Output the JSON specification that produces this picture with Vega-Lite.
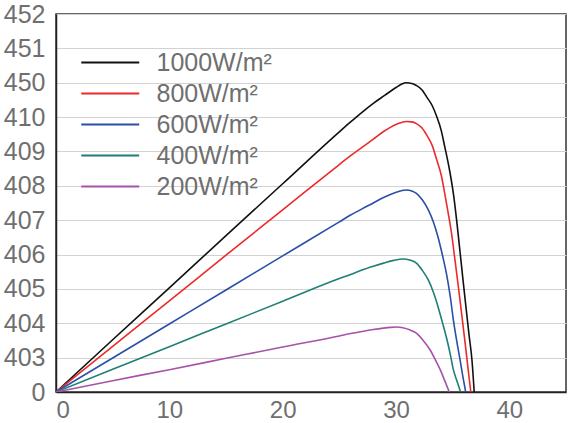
{
  "$schema": "https://vega.github.io/schema/vega-lite/v6.json",
  "width": 510,
  "height": 378,
  "autosize": {"type": "none"},
  "padding": {"left": 56, "top": 14, "right": 2, "bottom": 31},
  "background": "white",
  "config": {
    "font": "Liberation Sans",
    "view": {"stroke": "#333333", "strokeWidth": 1.5},
    "axis": {"labelFont": "Liberation Sans", "labelColor": "#6f6f6f", "labelFontSize": 25}
  },
  "data": {
    "values": [
      {"v": 0, "p": 0, "s": "1000W/m²"}, {"v": 5, "p": 1.52, "s": "1000W/m²"}, {"v": 10, "p": 3.03, "s": "1000W/m²"},
      {"v": 15, "p": 4.55, "s": "1000W/m²"}, {"v": 20, "p": 6.06, "s": "1000W/m²"}, {"v": 25, "p": 7.57, "s": "1000W/m²"},
      {"v": 26, "p": 7.86, "s": "1000W/m²"}, {"v": 27, "p": 8.14, "s": "1000W/m²"}, {"v": 28, "p": 8.4, "s": "1000W/m²"},
      {"v": 29, "p": 8.63, "s": "1000W/m²"}, {"v": 30, "p": 8.86, "s": "1000W/m²"}, {"v": 30.5, "p": 8.96, "s": "1000W/m²"},
      {"v": 30.9, "p": 9.0, "s": "1000W/m²"}, {"v": 31.4, "p": 8.98, "s": "1000W/m²"}, {"v": 31.8, "p": 8.92, "s": "1000W/m²"},
      {"v": 32.3, "p": 8.79, "s": "1000W/m²"}, {"v": 32.7, "p": 8.59, "s": "1000W/m²"}, {"v": 33.2, "p": 8.33, "s": "1000W/m²"},
      {"v": 33.6, "p": 8.01, "s": "1000W/m²"}, {"v": 34.0, "p": 7.6, "s": "1000W/m²"}, {"v": 34.3, "p": 7.14, "s": "1000W/m²"},
      {"v": 34.7, "p": 6.5, "s": "1000W/m²"}, {"v": 35.06, "p": 5.78, "s": "1000W/m²"}, {"v": 35.35, "p": 5.0, "s": "1000W/m²"},
      {"v": 35.6, "p": 4.23, "s": "1000W/m²"}, {"v": 35.9, "p": 3.3, "s": "1000W/m²"}, {"v": 36.2, "p": 2.39, "s": "1000W/m²"},
      {"v": 36.45, "p": 1.65, "s": "1000W/m²"}, {"v": 36.7, "p": 0.94, "s": "1000W/m²"}, {"v": 36.9, "p": 0, "s": "1000W/m²"},

      {"v": 0, "p": 0, "s": "800W/m²"}, {"v": 5, "p": 1.33, "s": "800W/m²"}, {"v": 10, "p": 2.65, "s": "800W/m²"},
      {"v": 15, "p": 3.98, "s": "800W/m²"}, {"v": 20, "p": 5.3, "s": "800W/m²"}, {"v": 25, "p": 6.62, "s": "800W/m²"},
      {"v": 26, "p": 6.88, "s": "800W/m²"}, {"v": 27, "p": 7.12, "s": "800W/m²"}, {"v": 28, "p": 7.36, "s": "800W/m²"},
      {"v": 28.9, "p": 7.58, "s": "800W/m²"}, {"v": 29.5, "p": 7.7, "s": "800W/m²"}, {"v": 30.2, "p": 7.81, "s": "800W/m²"},
      {"v": 30.9, "p": 7.87, "s": "800W/m²"}, {"v": 31.4, "p": 7.86, "s": "800W/m²"}, {"v": 31.8, "p": 7.81, "s": "800W/m²"},
      {"v": 32.3, "p": 7.68, "s": "800W/m²"}, {"v": 32.7, "p": 7.48, "s": "800W/m²"}, {"v": 33.2, "p": 7.17, "s": "800W/m²"},
      {"v": 33.6, "p": 6.75, "s": "800W/m²"}, {"v": 34.0, "p": 6.3, "s": "800W/m²"}, {"v": 34.3, "p": 5.78, "s": "800W/m²"},
      {"v": 34.6, "p": 5.22, "s": "800W/m²"}, {"v": 34.9, "p": 4.62, "s": "800W/m²"}, {"v": 35.2, "p": 3.85, "s": "800W/m²"},
      {"v": 35.5, "p": 3.07, "s": "800W/m²"}, {"v": 35.8, "p": 2.25, "s": "800W/m²"}, {"v": 36.1, "p": 1.42, "s": "800W/m²"},
      {"v": 36.35, "p": 0.7, "s": "800W/m²"}, {"v": 36.6, "p": 0, "s": "800W/m²"},

      {"v": 0, "p": 0, "s": "600W/m²"}, {"v": 5, "p": 0.99, "s": "600W/m²"}, {"v": 10, "p": 1.98, "s": "600W/m²"},
      {"v": 15, "p": 2.97, "s": "600W/m²"}, {"v": 20, "p": 3.96, "s": "600W/m²"}, {"v": 25, "p": 4.95, "s": "600W/m²"},
      {"v": 26, "p": 5.15, "s": "600W/m²"}, {"v": 27, "p": 5.33, "s": "600W/m²"}, {"v": 28, "p": 5.5, "s": "600W/m²"},
      {"v": 28.9, "p": 5.66, "s": "600W/m²"}, {"v": 29.9, "p": 5.8, "s": "600W/m²"}, {"v": 30.9, "p": 5.88, "s": "600W/m²"},
      {"v": 31.4, "p": 5.85, "s": "600W/m²"}, {"v": 31.8, "p": 5.78, "s": "600W/m²"}, {"v": 32.3, "p": 5.6, "s": "600W/m²"},
      {"v": 32.85, "p": 5.3, "s": "600W/m²"}, {"v": 33.3, "p": 4.95, "s": "600W/m²"}, {"v": 33.7, "p": 4.52, "s": "600W/m²"},
      {"v": 34.1, "p": 3.98, "s": "600W/m²"}, {"v": 34.5, "p": 3.36, "s": "600W/m²"}, {"v": 34.8, "p": 2.75, "s": "600W/m²"},
      {"v": 35.06, "p": 2.1, "s": "600W/m²"}, {"v": 35.35, "p": 1.5, "s": "600W/m²"}, {"v": 35.65, "p": 0.94, "s": "600W/m²"},
      {"v": 35.9, "p": 0.45, "s": "600W/m²"}, {"v": 36.15, "p": 0, "s": "600W/m²"},

      {"v": 0, "p": 0, "s": "400W/m²"}, {"v": 5, "p": 0.66, "s": "400W/m²"}, {"v": 10, "p": 1.32, "s": "400W/m²"},
      {"v": 15, "p": 1.98, "s": "400W/m²"}, {"v": 20, "p": 2.64, "s": "400W/m²"}, {"v": 25, "p": 3.3, "s": "400W/m²"},
      {"v": 26, "p": 3.42, "s": "400W/m²"}, {"v": 27, "p": 3.55, "s": "400W/m²"}, {"v": 28, "p": 3.66, "s": "400W/m²"},
      {"v": 28.9, "p": 3.75, "s": "400W/m²"}, {"v": 29.8, "p": 3.83, "s": "400W/m²"}, {"v": 30.65, "p": 3.87, "s": "400W/m²"},
      {"v": 31.2, "p": 3.84, "s": "400W/m²"}, {"v": 31.8, "p": 3.75, "s": "400W/m²"}, {"v": 32.3, "p": 3.55, "s": "400W/m²"},
      {"v": 32.85, "p": 3.26, "s": "400W/m²"}, {"v": 33.3, "p": 2.9, "s": "400W/m²"}, {"v": 33.7, "p": 2.49, "s": "400W/m²"},
      {"v": 34.1, "p": 2.02, "s": "400W/m²"}, {"v": 34.5, "p": 1.52, "s": "400W/m²"}, {"v": 34.8, "p": 1.08, "s": "400W/m²"},
      {"v": 35.06, "p": 0.65, "s": "400W/m²"}, {"v": 35.4, "p": 0.3, "s": "400W/m²"}, {"v": 35.7, "p": 0, "s": "400W/m²"},

      {"v": 0, "p": 0, "s": "200W/m²"}, {"v": 5, "p": 0.33, "s": "200W/m²"}, {"v": 10, "p": 0.65, "s": "200W/m²"},
      {"v": 15, "p": 0.98, "s": "200W/m²"}, {"v": 20, "p": 1.31, "s": "200W/m²"}, {"v": 25, "p": 1.63, "s": "200W/m²"},
      {"v": 26, "p": 1.7, "s": "200W/m²"}, {"v": 27, "p": 1.76, "s": "200W/m²"}, {"v": 28, "p": 1.82, "s": "200W/m²"},
      {"v": 28.9, "p": 1.86, "s": "200W/m²"}, {"v": 29.5, "p": 1.88, "s": "200W/m²"}, {"v": 30.06, "p": 1.89, "s": "200W/m²"},
      {"v": 30.6, "p": 1.87, "s": "200W/m²"}, {"v": 31.2, "p": 1.81, "s": "200W/m²"}, {"v": 31.8, "p": 1.71, "s": "200W/m²"},
      {"v": 32.4, "p": 1.5, "s": "200W/m²"}, {"v": 33.0, "p": 1.23, "s": "200W/m²"}, {"v": 33.45, "p": 0.95, "s": "200W/m²"},
      {"v": 33.9, "p": 0.65, "s": "200W/m²"}, {"v": 34.3, "p": 0.33, "s": "200W/m²"}, {"v": 34.7, "p": 0, "s": "200W/m²"}
    ]
  },
  "mark": {"type": "line", "strokeWidth": 1.6, "clip": true, "interpolate": "monotone"},
  "encoding": {
    "x": {
      "field": "v", "type": "quantitative",
      "scale": {"domain": [0, 45], "nice": false},
      "axis": {"title": null, "values": [0, 10, 20, 30, 40], "grid": false, "ticks": false,
               "domainColor": "#222222", "domainWidth": 1.5, "labelPadding": 6, "labelFontSize": 24}
    },
    "y": {
      "field": "p", "type": "quantitative",
      "scale": {"domain": [0, 11], "nice": false, "zero": true},
      "axis": {"title": null, "values": [0, 1, 2, 3, 4, 5, 6, 7, 8, 9, 10, 11],
               "labelExpr": "['0','403','404','405','406','407','408','409','410','450','451','452'][datum.value]",
               "grid": true, "gridColor": "#d2d2d2", "gridWidth": 1.2, "ticks": false,
               "domainColor": "#222222", "domainWidth": 1.5, "labelPadding": 11}
    },
    "color": {
      "field": "s", "type": "nominal",
      "scale": {
        "domain": ["1000W/m²", "800W/m²", "600W/m²", "400W/m²", "200W/m²"],
        "range": ["#111111", "#ec2a2a", "#2a4fa6", "#1f7f78", "#a652a9"]
      },
      "legend": {
        "title": null, "orient": "none", "legendX": 41.75, "legendY": 36,
        "symbolType": "M-4,0H4", "symbolSize": 210, "symbolStrokeWidth": 2,
        "labelFont": "Liberation Sans", "labelFontSize": 25, "labelColor": "#6f6f6f",
        "labelOffset": 33.75, "rowPadding": 5
      }
    }
  }
}
